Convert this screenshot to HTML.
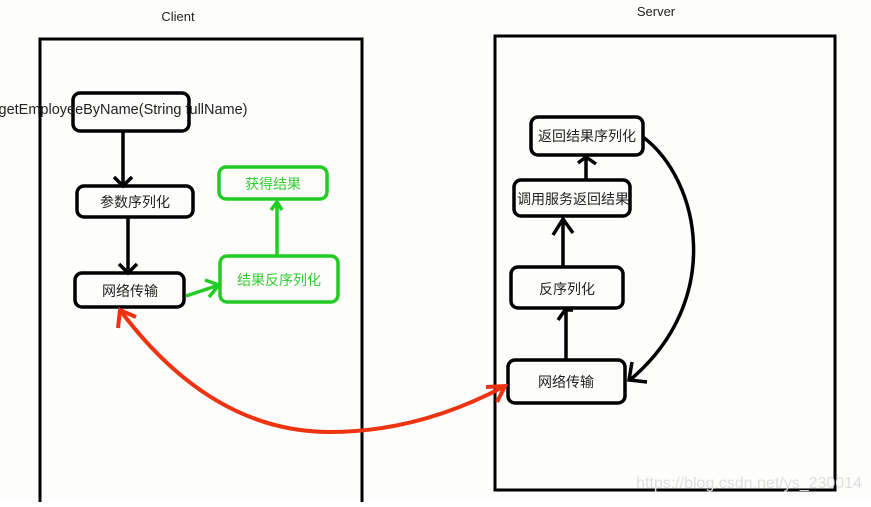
<!DOCTYPE html>
<html><head><meta charset="utf-8"><style>
body{margin:0;background:#fff;width:871px;height:502px;overflow:hidden;font-family:"Liberation Sans","Noto Sans CJK SC",sans-serif}
</style></head><body>
<svg width="871" height="502" viewBox="0 0 871 502" xmlns="http://www.w3.org/2000/svg" font-family="Liberation Sans, Noto Sans CJK SC, sans-serif">
<rect width="871" height="502" fill="#fdfdfb"/>
<text x="178" y="21" font-size="13" text-anchor="middle" fill="#222">Client</text>
<text x="656" y="16" font-size="13" text-anchor="middle" fill="#222">Server</text>
<rect x="40" y="39" width="322" height="470" fill="none" stroke="#000" stroke-width="3"/>
<rect x="495" y="36" width="340" height="454" fill="none" stroke="#000" stroke-width="3"/>
<g fill="none" stroke="#000" stroke-width="3.5">
<rect x="73" y="93" width="116" height="38" rx="7"/>
<rect x="77" y="186" width="116" height="31" rx="7"/>
<rect x="75" y="273" width="109" height="34" rx="7"/>
<rect x="531" y="117" width="112" height="38" rx="7"/>
<rect x="514" y="180" width="116" height="36" rx="7"/>
<rect x="511" y="267" width="112" height="41" rx="7"/>
<rect x="508" y="360" width="117" height="43" rx="7"/>
<path d="M123 131V184M114 177l9 9 9-9"/>
<path d="M128 217V271M119 264l9 9 9-9"/>
<path d="M586 180V157M578 163l8-6 10 7"/>
<path d="M563 267V218M553 235l10-16 10 14"/>
<path d="M566 360V310M558 320l7-10 8 0"/>
<path d="M643 137C700 180 725 300 630 380M632 362l-3 18 18 2"/>
</g>
<g fill="none" stroke="#22cc22" stroke-width="3.5">
<rect x="219" y="167" width="108" height="32" rx="7"/>
<rect x="220" y="256" width="118" height="46" rx="7"/>
<path d="M186 296L219 285M205 280l14 5-10 12"/>
<path d="M277 256V202M271 210l6-8 5 8"/>
</g>
<path d="M120 310C180 390 250 432 330 432C400 432 460 410 505 386M118 328l2-18 16 7M486 387l19-1-8 16" fill="none" stroke="#ee3311" stroke-width="4"/>
<g font-size="14" fill="#222" text-anchor="middle">
<text x="123" y="114" font-size="14.5">getEmployeeByName(String fullName)</text>
<text x="135" y="207">参数序列化</text>
<text x="130" y="296">网络传输</text>
<text x="587" y="141">返回结果序列化</text>
<text x="573" y="204">调用服务返回结果</text>
<text x="567" y="294">反序列化</text>
<text x="566" y="387">网络传输</text>
<text x="273" y="189" fill="#33cc33">获得结果</text>
<text x="279" y="285" fill="#33cc33">结果反序列化</text>
</g>
<text x="862" y="488" font-size="16" fill="#ddd" text-anchor="end">https://blog.csdn.net/ys_230014</text>
</svg>
</body></html>
